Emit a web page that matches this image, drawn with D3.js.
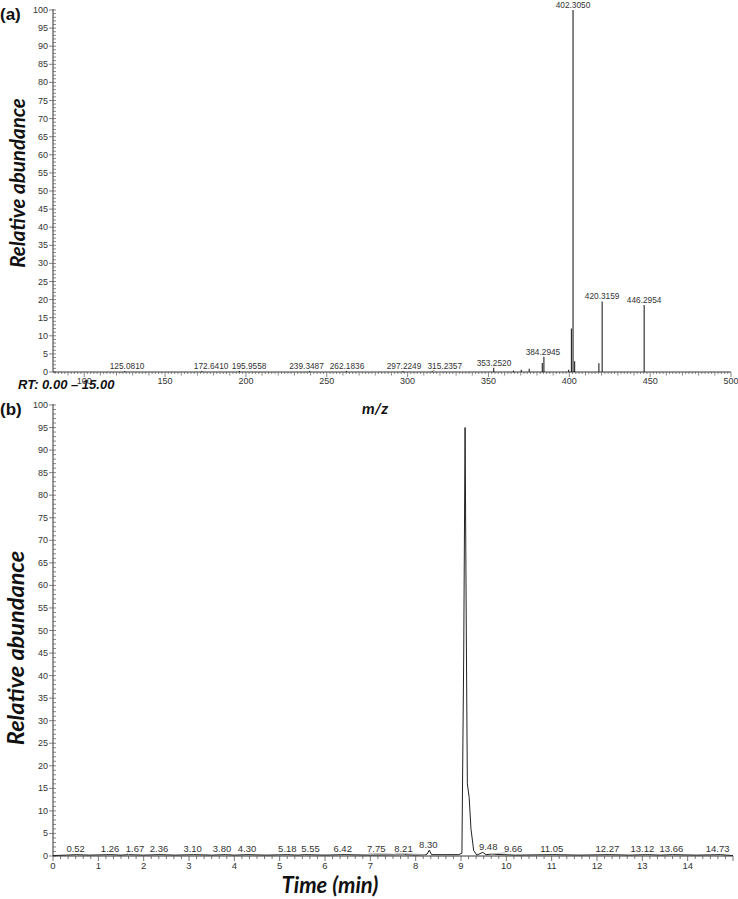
<!DOCTYPE html>
<html>
<head>
<meta charset="utf-8">
<script src="https://cdn.jsdelivr.net/npm/d3@7"></script>
<style>
  body { margin: 0; background: #fff; }
  text { font-family: "Liberation Sans", Arial, sans-serif; }
  .title { font-family: Lato, "Open Sans", sans-serif; font-weight: bold; font-style: italic; fill: #111; }
</style>
</head>
<body>
<div id="chart"></div>
<script>
var WIDTH = 738, HEIGHT = 899;

// (a) mass spectrum peaks: m/z and relative abundance
var mzValues = [125.0810, 172.6410, 195.9558, 239.3487, 262.1836, 297.2249, 315.2357,
                353.2520, 365.5, 370.3, 375.2, 383.3, 384.2945, 399.6, 401.3, 402.3050, 403.3,
                418.3, 420.3159, 446.2954];
var mzAbundance = [0.3, 0.3, 0.3, 0.3, 0.3, 0.3, 0.3,
                   1.2, 0.4, 0.6, 0.9, 2.5, 4.2, 0.6, 12, 100, 3,
                   2.4, 19.5, 18.5];
// labelled peaks and the m/z where each label is centred (shifted to avoid overlap)
var mzLabels = ['125.0810', '172.6410', '195.9558', '239.3487', '262.1836', '297.2249',
                '315.2357', '353.2520', '384.2945', '402.3050', '420.3159', '446.2954'];
var mzLabelAt = [126.5, 178.5, 202, 237.5, 262.5, 297.8, 323, 353.4, 383.7, 402.3, 420.3, 446.3];

// (b) chromatogram trace: time (min) and relative abundance
var rtTime = [0, 0.3, 0.52, 0.8, 1.26, 1.5, 1.67, 2.0, 2.36, 2.7, 3.10, 3.5, 3.80, 4.0, 4.30,
              4.7, 5.18, 5.4, 5.55, 6.0, 6.42, 7.0, 7.75, 8.0, 8.21, 8.25, 8.30, 8.35, 8.6,
              8.95, 9.02, 9.06, 9.09, 9.12, 9.14, 9.18, 9.22, 9.28, 9.35, 9.48, 9.55, 9.66,
              10.2, 11.05, 11.6, 12.27, 12.7, 13.12, 13.4, 13.66, 14.2, 14.73, 15];
var rtAbundance = [0.1, 0.2, 0.3, 0.2, 0.3, 0.2, 0.3, 0.2, 0.3, 0.2, 0.3, 0.2, 0.3, 0.2, 0.3,
                   0.2, 0.3, 0.2, 0.3, 0.2, 0.3, 0.2, 0.3, 0.2, 0.3, 0.4, 1.3, 0.3, 0.3,
                   0.3, 0.6, 45, 95, 45, 16, 13, 6, 1.2, 0.2, 0.8, 0.3, 0.4,
                   0.2, 0.3, 0.2, 0.3, 0.2, 0.3, 0.2, 0.3, 0.2, 0.3, 0.1];
// retention time labels, the abundance they sit over, and the time each label is centred on
var rtLabels = ['0.52', '1.26', '1.67', '2.36', '3.10', '3.80', '4.30', '5.18', '5.55', '6.42',
                '7.75', '8.21', '8.30', '9.48', '9.66', '11.05', '12.27', '13.12', '13.66', '14.73'];
var rtLabelLevel = [0.3, 0.3, 0.3, 0.3, 0.3, 0.3, 0.3, 0.3, 0.3, 0.3,
                    0.3, 0.3, 1.3, 0.8, 0.4, 0.3, 0.3, 0.3, 0.3, 0.3];
var rtLabelAt = [0.5, 1.26, 1.81, 2.34, 3.08, 3.73, 4.28, 5.17, 5.68, 6.39,
                 7.13, 7.73, 8.28, 9.6, 10.15, 11.0, 12.23, 13.0, 13.64, 14.66];

var svg = d3.select('#chart')
    .append('svg')
    .attr('width', WIDTH)
    .attr('height', HEIGHT);

//draw a y axis with labelled majors every 5 and minor ticks every 1
function drawYAxis(y, x0) {
    var g = svg.append('g');
    g.append('line')
        .attr('x1', x0).attr('x2', x0)
        .attr('y1', y(0)).attr('y2', y(100) - 1)
        .attr('stroke', '#333');
    d3.range(0, 101).forEach(function(v) {
        var major = v % 5 === 0;
        g.append('line')
            .attr('x1', major ? x0 - 4 : x0).attr('x2', x0 + 3)
            .attr('y1', y(v)).attr('y2', y(v))
            .attr('stroke', '#555')
            .attr('stroke-width', 0.7);
        if (major) {
            g.append('text')
                .attr('x', x0 - 5).attr('y', y(v) + 3)
                .attr('text-anchor', 'end')
                .attr('font-size', 9)
                .attr('fill', '#333')
                .text(v);
        }
    });
}

//grey leader line from a shifted label back to its peak
function leader(x1, y1, x2, y2) {
    svg.append('line')
        .attr('x1', x1).attr('y1', y1)
        .attr('x2', x2).attr('y2', y2)
        .attr('stroke', '#aaa')
        .attr('stroke-width', 0.8);
}

/**
 * Panel (a) - mass spectrum
 */
var xA = d3.scaleLinear().domain([80.7, 500]).range([53, 731]);
var yA = d3.scaleLinear().domain([0, 100]).range([372, 10]);

svg.append('text').attr('x', 0).attr('y', 20)
    .attr('font-size', 17).attr('font-weight', 'bold').attr('fill', '#111')
    .text('(a)');

drawYAxis(yA, 53);

//x axis line and ticks
svg.append('line')
    .attr('x1', 53).attr('x2', 731)
    .attr('y1', yA(0)).attr('y2', yA(0))
    .attr('stroke', '#333');
d3.range(82, 501, 2).forEach(function(v) {
    var len = v % 50 === 0 ? 5 : (v % 10 === 0 ? 3.5 : 2);
    svg.append('line')
        .attr('x1', xA(v)).attr('x2', xA(v))
        .attr('y1', yA(0)).attr('y2', yA(0) + len)
        .attr('stroke', '#555')
        .attr('stroke-width', 0.7);
});

//RT range text sits under the first tick label
svg.append('text')
    .attr('x', 18).attr('y', 388.5)
    .attr('font-size', 13)
    .attr('font-weight', 'bold')
    .attr('font-style', 'italic')
    .attr('fill', '#111')
    .text('RT: 0.00 \u2013 15.00');

d3.range(100, 501, 50).forEach(function(v) {
    svg.append('text')
        .attr('x', xA(v)).attr('y', 384)
        .attr('text-anchor', 'middle')
        .attr('font-size', 9)
        .attr('fill', '#333')
        .text(v);
});

//spectrum sticks
svg.append('g').selectAll('line')
    .data(mzValues)
    .enter()
    .append('line')
    .attr('x1', function(d) { return xA(d); })
    .attr('x2', function(d) { return xA(d); })
    .attr('y1', yA(0))
    .attr('y2', function(d, i) { return yA(mzAbundance[i]); })
    .attr('stroke', '#222')
    .attr('stroke-width', 1.1);

//peak labels
mzLabels.forEach(function(label, i) {
    var mz = +label;
    var top = yA(mzAbundance[mzValues.indexOf(mz)]);
    var lx = xA(mzLabelAt[i]);
    if (Math.abs(lx - xA(mz)) > 6) leader(lx - 10, top - 0.5, xA(mz), top);
    svg.append('text')
        .attr('x', lx).attr('y', top - 2)
        .attr('text-anchor', 'middle')
        .attr('font-size', 8.3)
        .attr('fill', '#333')
        .text(label);
});

svg.append('text')
    .attr('class', 'title')
    .attr('x', 375).attr('y', 414)
    .attr('text-anchor', 'middle')
    .attr('font-size', 16)
    .text('m/z');

svg.append('text')
    .attr('class', 'title')
    .attr('transform', 'translate(25,183) rotate(-90)')
    .attr('text-anchor', 'middle')
    .attr('font-size', 20.5)
    .text('Relative abundance');

/**
 * Panel (b) - chromatogram
 */
var xB = d3.scaleLinear().domain([0, 15]).range([53, 733]);
var yB = d3.scaleLinear().domain([0, 100]).range([856, 405]);

svg.append('text').attr('x', 0).attr('y', 415)
    .attr('font-size', 17).attr('font-weight', 'bold').attr('fill', '#111')
    .text('(b)');

drawYAxis(yB, 53);

svg.append('line')
    .attr('x1', 53).attr('x2', 733)
    .attr('y1', yB(0)).attr('y2', yB(0))
    .attr('stroke', '#333');
d3.range(0, 91).forEach(function(k) {
    var t = k / 6;
    var major = k % 6 === 0;
    svg.append('line')
        .attr('x1', xB(t)).attr('x2', xB(t))
        .attr('y1', yB(0)).attr('y2', yB(0) + (major ? 5 : 3))
        .attr('stroke', '#555')
        .attr('stroke-width', 0.8);
});
d3.range(0, 15).forEach(function(v) {
    svg.append('text')
        .attr('x', xB(v)).attr('y', 869)
        .attr('text-anchor', 'middle')
        .attr('font-size', 9.5)
        .attr('fill', '#333')
        .text(v);
});

//trace
var line = d3.line()
    .x(function(d) { return xB(d); })
    .y(function(d, i) { return yB(rtAbundance[i]); });
svg.append('path')
    .attr('d', line(rtTime))
    .attr('fill', 'none')
    .attr('stroke', '#222')
    .attr('stroke-width', 1);

rtLabels.forEach(function(label, i) {
    var top = yB(rtLabelLevel[i]);
    var lx = xB(rtLabelAt[i]);
    if (Math.abs(lx - xB(+label)) > 6) leader(lx - 8, top - 1.5, xB(+label), top);
    svg.append('text')
        .attr('x', lx).attr('y', top - 2.5)
        .attr('text-anchor', 'middle')
        .attr('font-size', 9.5)
        .attr('fill', '#333')
        .text(label);
});

svg.append('text')
    .attr('class', 'title')
    .attr('x', 330).attr('y', 893)
    .attr('text-anchor', 'middle')
    .attr('font-size', 22)
    .text('Time (min)');

svg.append('text')
    .attr('class', 'title')
    .attr('transform', 'translate(24,648) rotate(-90)')
    .attr('text-anchor', 'middle')
    .attr('font-size', 23.5)
    .text('Relative abundance');
</script>
</body>
</html>
